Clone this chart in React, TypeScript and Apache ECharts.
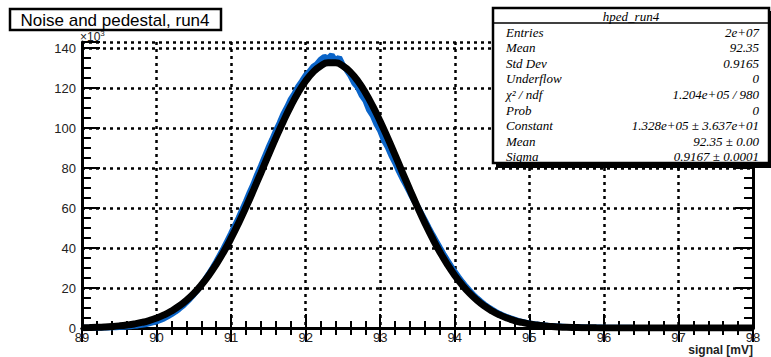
import React, { useEffect, useRef } from "react";
import * as echarts from "echarts";

// ---- data (values in units of 10^3 entries) ----
const xTicks = [89, 90, 91, 92, 93, 94, 95, 96, 97, 98];
const yTicks = [0, 20, 40, 60, 80, 100, 120, 140];

// histogram bins: start 89.00, width 0.05
const histStart = 89.0;
const histWidth = 0.05;
const histValues = [
  0.05, 0.08, 0.1, 0.12, 0.15, 0.18, 0.22, 0.28, 0.35, 0.42,
  0.5, 0.62, 0.75, 0.9, 1.1, 1.3, 1.6, 1.9, 2.3, 2.8,
  3.3, 4.0, 4.8, 5.8, 6.9, 8.1, 9.5, 11.0, 12.8, 14.7,
  16.8, 19.0, 21.5, 24.2, 27.0, 30.0, 33.1, 36.5, 39.9, 43.6,
  47.3, 51.2, 55.0, 59.3, 63.4, 67.9, 72.0, 76.8, 81.0, 85.6,
  90.1, 94.2, 98.6, 102.5, 106.9, 110.4, 114.3, 117.2, 120.8, 123.4,
  126.3, 128.2, 130.6, 131.9, 134.2, 135.6, 134.8, 136.5, 133.6, 135.2,
  131.4, 129.0, 126.2, 122.5, 120.3, 116.4, 113.8, 109.1, 106.2, 101.9,
  98.6, 93.8, 90.5, 86.2, 82.6, 78.4, 74.6, 71.2, 67.5, 64.0,
  60.8, 57.3, 53.8, 50.2, 46.7, 43.4, 40.1, 36.9, 33.8, 30.9,
  28.1, 25.5, 23.0, 20.7, 18.6, 16.6, 14.8, 13.2, 11.7, 10.4,
  9.2, 8.1, 7.1, 6.2, 5.5, 4.8, 4.2, 3.6, 3.1, 2.7,
  2.3, 2.0, 1.7, 1.5, 1.3, 1.1, 1.0, 0.85, 0.75, 0.65,
  0.55, 0.5, 0.45, 0.4, 0.35, 0.3, 0.28, 0.25, 0.22, 0.2,
  0.18, 0.16, 0.14, 0.12, 0.1, 0.09, 0.08, 0.07, 0.06, 0.05,
  0.04, 0.03, 0.02, 0.02, 0.01,
];

// gaussian fit curve sampled every 0.1 from 89.0 to 98.0
const fitStart = 89.0;
const fitStep = 0.1;
const fitValues = [
  0.17, 0.25, 0.36, 0.52, 0.75, 1.06, 1.48, 2.03, 2.77, 3.73,
  4.97, 6.53, 8.49, 10.89, 13.82, 17.33, 21.47, 26.28, 31.79, 38.01,
  44.9, 52.41, 60.46, 68.91, 77.62, 86.4, 95.03, 103.28, 110.92, 117.73,
  123.47, 127.95, 131.03, 132.6, 132.6, 131.03, 127.95, 123.47, 117.73, 110.92,
  103.28, 95.03, 86.4, 77.62, 68.91, 60.46, 52.41, 44.9, 38.01, 31.79,
  26.28, 21.47, 17.33, 13.82, 10.89, 8.49, 6.53, 4.97, 3.73, 2.77,
  2.03, 1.48, 1.06, 0.75, 0.52, 0.36, 0.25, 0.17, 0.11, 0.07,
  0.05, 0.03, 0.02, 0.01, 0, 0, 0, 0, 0, 0,
  0, 0, 0, 0, 0, 0, 0, 0, 0, 0,
  0,
];

const statTitle = "hped_run4";
const statLabels = ["Entries", "Mean", "Std Dev", "Underflow", "χ\u00b2 / ndf", "Prob", "Constant", "Mean", "Sigma"];
const statValues = ["2e+07", "92.35", "0.9165", "0", "1.204e+05 / 980", "0", "1.328e+05 ± 3.637e+01", "92.35 ± 0.00", "0.9167 ± 0.0001"];

const titleText = "Noise and pedestal, run4";
const xAxisTitle = "signal [mV]";

export default function App() {
  const ref = useRef<HTMLDivElement>(null);
  useEffect(() => {
    document.body.style.margin = "0";
    const chart = echarts.init(ref.current!, undefined, { renderer: "svg" });
    const histData = histValues.map((v, i) => [+(histStart + i * histWidth).toFixed(2), v]);
    const fitData = fitValues.map((v, i) => [+(fitStart + i * fitStep).toFixed(2), v]);

    const labelFont = { fontFamily: "Liberation Sans", fontSize: 13, color: "#222" };
    const gridLine = { show: true, lineStyle: { color: "#000", width: 2.5, type: [3, 4] as any } };
    const frame = { show: true, lineStyle: { color: "#000", width: 3 } };

    const statFont = "italic 13px 'Liberation Serif'";
    const statTop = 8;
    const rowY0 = 32;
    const rowH = 15.6;
    const statGraphics: any[] = [
      { type: "rect", shape: { x: 496, y: statTop + 3, width: 276, height: 157 }, style: { fill: "#000" }, z: 10 },
      { type: "rect", shape: { x: 493, y: statTop, width: 276, height: 155 }, style: { fill: "#fff", stroke: "#000", lineWidth: 2.5 }, z: 11 },
      { type: "line", shape: { x1: 493, y1: 23, x2: 769, y2: 23 }, style: { stroke: "#000", lineWidth: 1.5 }, z: 12 },
      { type: "text", x: 631, y: 16, style: { text: statTitle, font: statFont, fill: "#000", align: "center", verticalAlign: "middle" }, z: 12 },
    ];
    statLabels.forEach((lab, i) => {
      statGraphics.push({ type: "text", x: 506, y: rowY0 + i * rowH, style: { text: lab, font: statFont, fill: "#000", align: "left", verticalAlign: "middle" }, z: 12 });
      statGraphics.push({ type: "text", x: 759, y: rowY0 + i * rowH, style: { text: statValues[i], font: statFont, fill: "#000", align: "right", verticalAlign: "middle" }, z: 12 });
    });

    chart.setOption({
      animation: false,
      grid: { left: 82, right: 18, top: 42, bottom: 29 },
      xAxis: [
        {
          type: "value", min: xTicks[0], max: xTicks[xTicks.length - 1], interval: 1, position: "bottom",
          axisLine: frame,
          axisTick: { show: true, inside: true, length: 14, lineStyle: { color: "#000", width: 2 } },
          minorTick: { show: true, splitNumber: 5, length: 7, lineStyle: { color: "#000", width: 2 } },
          splitLine: gridLine,
          axisLabel: { ...labelFont, margin: 3 },
        },
        {
          type: "value", min: xTicks[0], max: xTicks[xTicks.length - 1], interval: 1, position: "top",
          axisLine: frame,
          axisTick: { show: true, inside: true, length: 14, lineStyle: { color: "#000", width: 2 } },
          minorTick: { show: true, splitNumber: 5, length: 7, lineStyle: { color: "#000", width: 2 } },
          splitLine: { show: false },
          axisLabel: { show: false },
        },
      ],
      yAxis: [
        {
          type: "value", min: 0, max: 143, interval: 20, position: "left",
          axisLine: frame,
          axisTick: { show: true, inside: true, length: 18, lineStyle: { color: "#000", width: 2 } },
          minorTick: { show: true, splitNumber: 4, length: 9, lineStyle: { color: "#000", width: 2 } },
          splitLine: gridLine,
          axisLabel: { ...labelFont, margin: 6, formatter: (v: number) => (yTicks.includes(v) ? String(v) : "") },
        },
        {
          type: "value", min: 0, max: 143, interval: 20, position: "right",
          axisLine: frame,
          axisTick: { show: true, inside: true, length: 18, lineStyle: { color: "#000", width: 2 } },
          minorTick: { show: true, splitNumber: 4, length: 9, lineStyle: { color: "#000", width: 2 } },
          splitLine: { show: false },
          axisLabel: { show: false },
        },
      ],
      series: [
        {
          type: "line", name: "data", data: histData, xAxisIndex: 0, yAxisIndex: 0,
          showSymbol: false, symbol: "none",
          lineStyle: { color: "#0a64c8", width: 6 }, z: 3,
        },
        {
          type: "line", name: "fit", data: fitData, xAxisIndex: 0, yAxisIndex: 0,
          showSymbol: false, symbol: "none", smooth: true,
          lineStyle: { color: "#000", width: 7 }, z: 4,
        },
      ],
      graphic: [
        { type: "rect", shape: { x: 10, y: 9, width: 211, height: 21 }, style: { fill: "#fff", stroke: "#000", lineWidth: 2.5 }, z: 10 },
        { type: "text", x: 115, y: 20, style: { text: titleText, font: "17px 'Liberation Sans'", fill: "#000", align: "center", verticalAlign: "middle" }, z: 11 },
        {
          type: "text", x: 80, y: 37,
          style: {
            text: "{a|×10}{b|3}", fill: "#222", verticalAlign: "middle",
            rich: { a: { fontFamily: "Liberation Sans", fontSize: 12, fill: "#222" }, b: { fontFamily: "Liberation Sans", fontSize: 8, fill: "#222", verticalAlign: "top", padding: [0, 0, 8, 0] } },
          },
          z: 9,
        },
        { type: "text", x: 753, y: 350, style: { text: xAxisTitle, font: "bold 12px 'Liberation Sans'", fill: "#222", align: "right", verticalAlign: "middle" }, z: 11 },
        ...statGraphics,
      ],
    });
    return () => chart.dispose();
  }, []);
  return <div ref={ref} style={{ width: 771, height: 357 }} />;
}
